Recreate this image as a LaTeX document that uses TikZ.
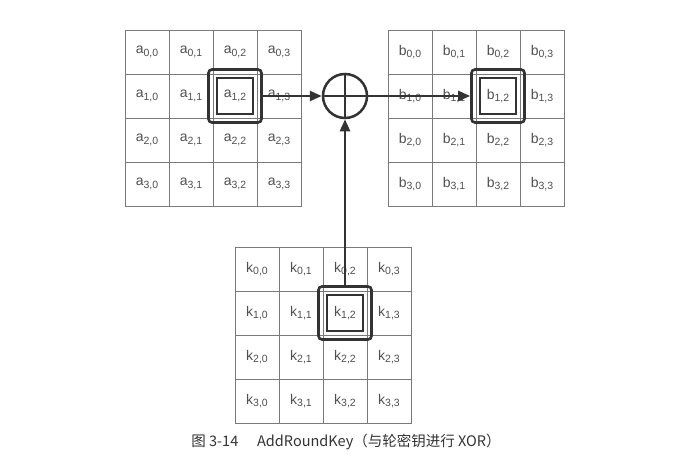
\documentclass[tikz,border=0pt]{standalone}
\usepackage{fontspec}
\setmainfont{Liberation Sans}
\newfontfamily\cjk{Noto Sans CJK SC}
\usetikzlibrary{arrows.meta,positioning,calc}
\definecolor{inkgray}{HTML}{333333}
\definecolor{gridgray}{HTML}{7A7A7A}
\definecolor{labelgray}{HTML}{505050}
\newcommand{\cellname}[3]{#1\raisebox{-2.6pt}{\fontsize{10.5}{10.5}\selectfont #2,#3}}

\begin{document}
\begin{tikzpicture}[x=1pt, y=-1pt,
  cellbox/.style={rectangle, draw=gridgray, line width=0.9pt, minimum size=44pt, inner sep=0pt,
    text=labelgray, font=\fontsize{14}{14}\selectfont},
  hlbox/.style={rectangle, draw=inkgray, line width=2.6pt, rounded corners=3.5pt, minimum size=53pt, inner sep=0pt},
  hlinner/.style={rectangle, draw=inkgray, line width=2pt, minimum size=36pt, inner sep=0pt},
  xorbox/.style={circle, draw=inkgray, line width=2.5pt, minimum size=44pt, inner sep=0pt},
  arr/.style={-{Triangle[length=12pt, width=10pt]}, line width=2.4pt, inkgray}
]
  \useasboundingbox[fill=white] (0,0) rectangle (684,468);

  % three 4x4 state grids
  \foreach \r in {0,...,3} {
    \foreach \c in {0,...,3} {
      \node[cellbox] (a-\r-\c) at (147+44*\c, 52+44*\r) {\cellname{a}{\r}{\c}};
      \node[cellbox] (b-\r-\c) at (410+44*\c, 52+44*\r) {\cellname{b}{\r}{\c}};
      \node[cellbox] (k-\r-\c) at (257+44*\c, 269+44*\r) {\cellname{k}{\r}{\c}};
    }
  }

  % highlighted bytes
  \node[hlbox] (ahl) at (a-1-2) {};
  \node[hlinner] at (a-1-2) {};
  \node[hlbox] (bhl) at (b-1-2) {};
  \node[hlinner] at (b-1-2) {};
  \node[hlbox] (khl) at (k-1-2) {};
  \node[hlinner] at (k-1-2) {};

  % xor
  \node[xorbox] (xor) at (345, 96) {};
  \draw[inkgray, line width=2.4pt] (xor.north) -- (xor.south);
  \draw[inkgray, line width=2.4pt] (xor.west) -- (xor.east);

  \draw[arr] (ahl.east) -- (xor.west);
  \draw[arr] (xor.east) -- (bhl.west);
  \draw[arr] (khl.north) -- (xor.south);

  \node[font=\cjk\fontsize{14.5}{14.5}\selectfont, text=inkgray] (caption) at (346, 442)
    {图 3-14\hspace{1.3em}AddRoundKey（与轮密钥进行 XOR）};
\end{tikzpicture}
\end{document}
